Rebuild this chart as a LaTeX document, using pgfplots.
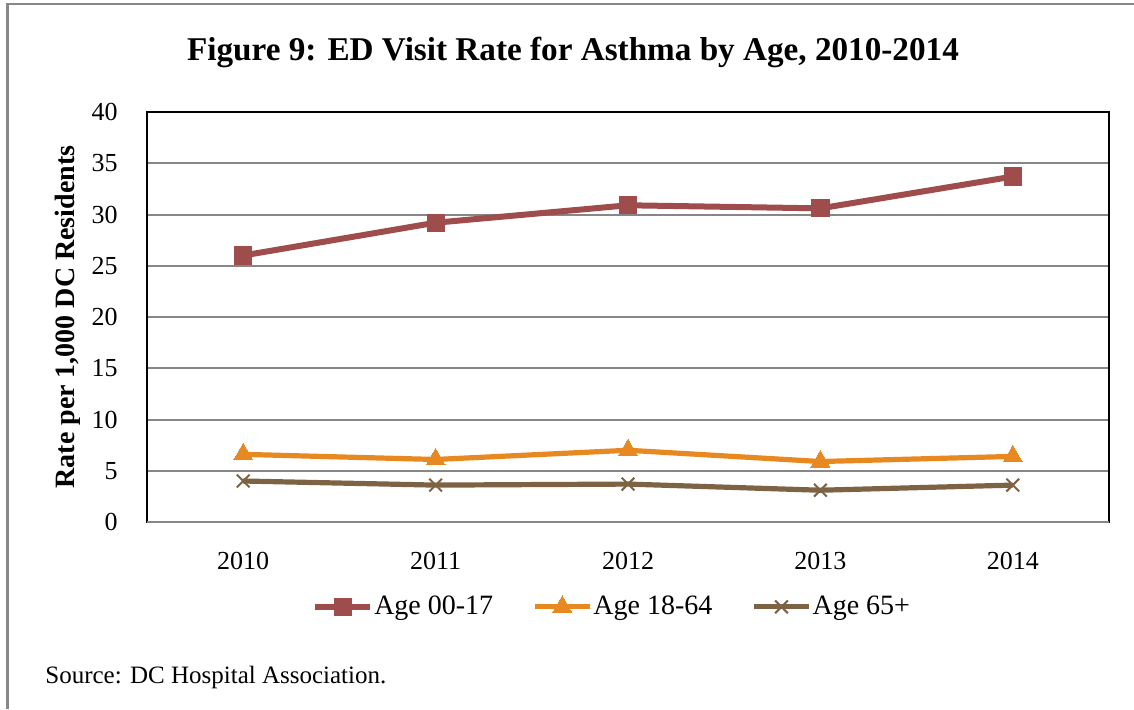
\documentclass[border=0pt]{standalone}
\usepackage{fontspec}
\setmainfont{Liberation Serif}
\usepackage{pgfplots}
\pgfplotsset{compat=1.18}

\definecolor{kidred}{RGB}{158,76,76}
\definecolor{adultorange}{RGB}{232,136,32}
\definecolor{seniorbrown}{RGB}{126,98,68}
\definecolor{framegray}{RGB}{136,136,136}
\definecolor{gridgray}{RGB}{135,135,135}

% ED visit rates per 1,000 residents
\pgfplotstableread{
x year  kids  adults seniors
0 2010  26.0  6.6    4.0
1 2011  29.2  6.1    3.6
2 2012  30.9  7.0    3.7
3 2013  30.6  5.9    3.1
4 2014  33.7  6.4    3.6
}\rates

\begin{document}
\begin{tikzpicture}
\useasboundingbox (0,0) rectangle (567pt,354.5pt);
% outer chart frame
\draw[framegray, line width=1.2pt] (3.75pt,0) -- (3.75pt,352.5pt) -- (567pt,352.5pt);

\node[font=\fontsize{16.6}{19}\selectfont\bfseries] at (286.5pt,328.5pt)
  {Figure 9: ED Visit Rate for Asthma by Age, 2010-2014};

\node[font=\fontsize{14}{16}\selectfont\bfseries, rotate=90] at (34pt,196pt)
  {Rate per 1,000 DC Residents};

\node[font=\fontsize{12.5}{14}\selectfont, anchor=base west, inner sep=0pt] at (22.5pt,13pt)
  {Source: DC Hospital Association.};

\begin{axis}[
  at={(73.5pt,93.5pt)}, anchor=south west,
  scale only axis, width=481pt, height=205pt,
  xmin=-0.5, xmax=4.5, ymin=0, ymax=40,
  xtick={0,1,2,3,4}, xticklabels={2010,2011,2012,2013,2014},
  ytick={0,5,...,40},
  major tick length=0pt,
  /pgf/number format/assume math mode=true,
  tick label style={font=\fontsize{13}{15}\selectfont, inner sep=0pt},
  yticklabel style={anchor=east, xshift=-14.5pt},
  xticklabel style={anchor=north, yshift=-15pt},
  ymajorgrids, grid style={gridgray, line width=1pt},
  axis line style={black, line width=1.1pt},
  legend columns=3,
  legend style={at={(0.483,-0.207)}, anchor=center, draw=none, fill=none,
    font=\fontsize{14}{16}\selectfont,
    nodes={inner xsep=0.5pt},
    /tikz/every even column/.append style={column sep=19pt}},
  legend cell align=left,
  legend image code/.code={
    \draw[mark repeat=2, mark phase=2] plot coordinates {(0pt,0pt) (13.75pt,0pt) (27.5pt,0pt)};},
  clip=false,
]
\addplot[kidred, line width=3pt, mark=square*, mark size=4.3pt,
  mark options={solid, line width=0pt}] table[x=x, y=kids] {\rates};
\addlegendentry{Age 00-17}
\addplot[adultorange, line width=2.6pt, mark=triangle*, mark size=5.5pt,
  mark options={solid, line width=0pt}] table[x=x, y=adults] {\rates};
\addlegendentry{Age 18-64}
\addplot[seniorbrown, line width=2.6pt, mark=x, mark size=4.5pt,
  mark options={solid, line width=1pt}] table[x=x, y=seniors] {\rates};
\addlegendentry{Age 65+}
% grey category axis along the bottom
\draw[gridgray, line width=1.2pt] (rel axis cs:0,0) -- (rel axis cs:1,0);
\end{axis}
\end{tikzpicture}
\end{document}
